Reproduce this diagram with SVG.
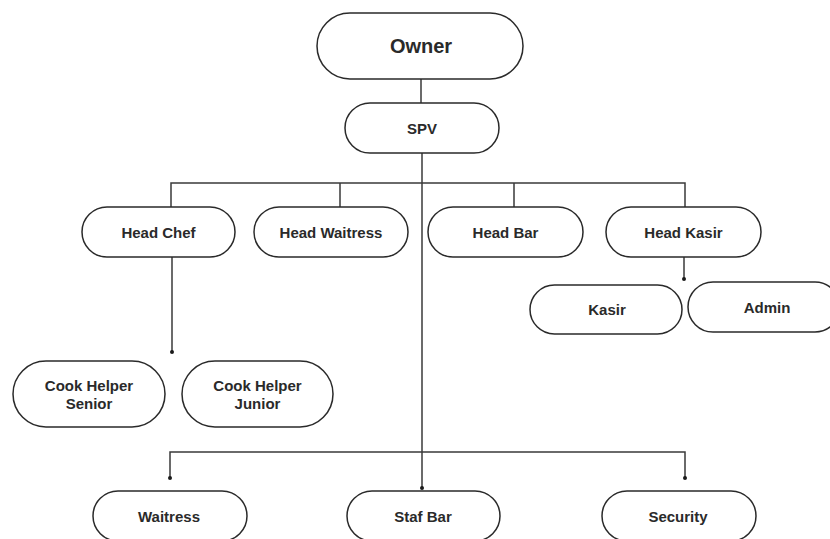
<svg xmlns="http://www.w3.org/2000/svg" width="830" height="539" viewBox="0 0 830 539">
<style>
.box{fill:#fff;stroke:#2a2a2a;stroke-width:1.5}
.t{font-family:"Liberation Sans",Arial,sans-serif;font-weight:bold;font-size:15px;fill:#2a2a2a;text-anchor:middle;dominant-baseline:central}
.big{font-size:20px}
.ln{fill:none;stroke:#3a3a3a;stroke-width:1.5}
.dot{fill:#1a1a1a}
</style>
<rect width="830" height="539" fill="#fff"/>
<g id="connectors">
<path class="ln" d="M421 79V103"/>
<path class="ln" d="M422 153V489"/>
<path class="ln" d="M171 207V183H685V207M340 183V207M514 183V207"/>
<path class="ln" d="M172 257V352"/>
<path class="ln" d="M684 257V279"/>
<path class="ln" d="M170 478V452H685V478"/>
<circle class="dot" cx="172" cy="352" r="2"/>
<circle class="dot" cx="684" cy="279" r="2"/>
<circle class="dot" cx="170" cy="478" r="2"/>
<circle class="dot" cx="685" cy="478" r="2"/>
<circle class="dot" cx="422" cy="488" r="2"/>
</g>
<g id="owner"><rect class="box" x="317" y="13" width="206" height="66" rx="33"/><text class="t big" x="421" y="46">Owner</text></g>
<g id="spv"><rect class="box" x="345" y="103" width="154" height="50" rx="25"/><text class="t" x="422" y="128">SPV</text></g>
<g id="head-chef"><rect class="box" x="82" y="207" width="153" height="50" rx="25"/><text class="t" x="158.5" y="232">Head Chef</text></g>
<g id="head-waitress"><rect class="box" x="254" y="207" width="154" height="50" rx="25"/><text class="t" x="331" y="232">Head Waitress</text></g>
<g id="head-bar"><rect class="box" x="428" y="207" width="155" height="50" rx="25"/><text class="t" x="505.5" y="232">Head Bar</text></g>
<g id="head-kasir"><rect class="box" x="606" y="207" width="155" height="50" rx="25"/><text class="t" x="683.5" y="232">Head Kasir</text></g>
<g id="kasir"><rect class="box" x="530" y="285" width="152" height="49" rx="24.5"/><text class="t" x="607" y="309">Kasir</text></g>
<g id="admin"><rect class="box" x="688" y="282" width="152" height="50" rx="25"/><text class="t" x="767" y="307">Admin</text></g>
<g id="cook-helper-senior"><rect class="box" x="13" y="361" width="152" height="66" rx="33"/><text class="t" x="89" y="385">Cook Helper</text><text class="t" x="89" y="403">Senior</text></g>
<g id="cook-helper-junior"><rect class="box" x="182" y="361" width="151" height="66" rx="33"/><text class="t" x="257.5" y="385">Cook Helper</text><text class="t" x="257.5" y="403">Junior</text></g>
<g id="waitress"><rect class="box" x="93" y="491" width="154" height="50" rx="25"/><text class="t" x="169" y="516">Waitress</text></g>
<g id="staf-bar"><rect class="box" x="347" y="491" width="153" height="50" rx="25"/><text class="t" x="423" y="516">Staf Bar</text></g>
<g id="security"><rect class="box" x="602" y="491" width="154" height="50" rx="25"/><text class="t" x="678" y="516">Security</text></g>
</svg>
